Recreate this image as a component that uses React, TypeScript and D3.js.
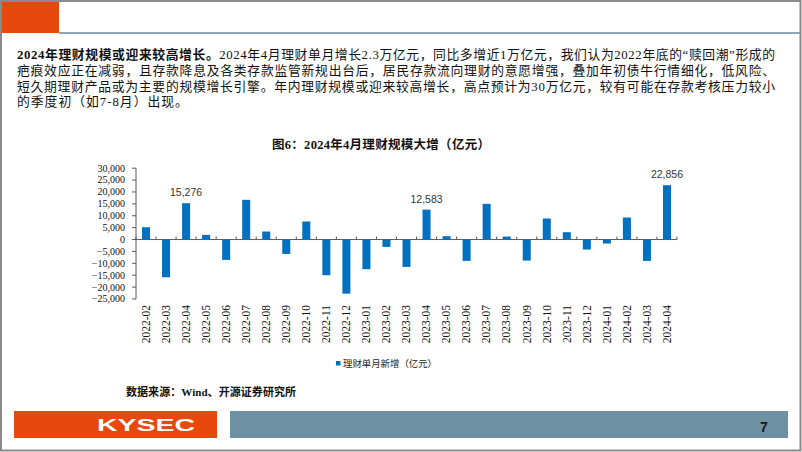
import React from "react";
import * as d3 from "d3";

const categories = [
  "2022-02", "2022-03", "2022-04", "2022-05", "2022-06", "2022-07", "2022-08", "2022-09",
  "2022-10", "2022-11", "2022-12", "2023-01", "2023-02", "2023-03", "2023-04", "2023-05",
  "2023-06", "2023-07", "2023-08", "2023-09", "2023-10", "2023-11", "2023-12", "2024-01",
  "2024-02", "2024-03", "2024-04",
];
const values = [
  5180, -15860, 15276, 1960, -8560, 16700, 3370, -6030,
  7580, -15000, -22730, -12490, -3090, -11500, 12583, 1400,
  -8980, 15010, 1260, -8840, 8840, 3090, -4210, -1680,
  9260, -8980, 22856,
];
const labeledCategories = ["2022-04", "2023-04", "2024-04"];
const yTicks = [30000, 25000, 20000, 15000, 10000, 5000, 0, -5000, -10000, -15000, -20000, -25000];
const seriesName = "理财单月新增（亿元）";
const chartTitle = "图6：2024年4月理财规模大增（亿元）";
const sourceText = "数据来源：Wind、开源证券研究所";
const paraBold = "2024年理财规模或迎来较高增长。";
const paraLines = [
  "2024年4月理财单月增长2.3万亿元，同比多增近1万亿元，我们认为2022年底的“赎回潮”形成的",
  "疤痕效应正在减弱，且存款降息及各类存款监管新规出台后，居民存款流向理财的意愿增强，叠加年初债牛行情细化，低风险、",
  "短久期理财产品或为主要的规模增长引擎。年内理财规模或迎来较高增长，高点预计为30万亿元，较有可能在存款考核压力较小",
  "的季度初（如7-8月）出现。",
];

const BAR = "#0070C0";
const ORANGE = "#E8480C";
const SLATE = "#6E90A3";
const AXIS = "#595959";
const SERIF = "'Liberation Serif', 'Noto Sans CJK SC', serif";
const CJK = "'Liberation Serif', 'Noto Sans CJK SC', sans-serif";

export default function App() {
  const W = 802;
  const H = 452;
  const x = d3.scaleBand<string>().domain(categories).range([136, 677]).paddingInner(0.6).paddingOuter(0.3);
  const y = d3.scaleLinear().domain([-25000, 30000]).range([299, 168.2]);
  const fmt = d3.format(",");
  const step = x.step();
  const y0 = y(0);
  const boundaries = d3.range(categories.length + 1).map((i) => 136 + i * step);

  const baselines = [59, 75, 90.5, 106];

  return (
    <svg
      width={W}
      height={H}
      viewBox={`0 0 ${W} ${H}`}
      style={{ position: "fixed", left: 0, top: 0, background: "#fff" }}
    >
      <rect x={0} y={0} width={W} height={H} fill="#fff" />
      {/* header */}
      <rect x={0} y={0} width={59} height={33} fill={ORANGE} />
      <line x1={59} x2={800} y1={33} y2={33} stroke="#8FA6B6" strokeWidth={2} />
      {/* page border */}
      <rect x={1} y={1} width={799.5} height={449.5} fill="none" stroke="#8a8a8a" strokeWidth={2} />

      {/* paragraph */}
      <text x={17} y={baselines[0]} fontFamily={CJK} fontSize={12.8} fill="#111" textLength={758} lengthAdjust="spacing">
        <tspan fontWeight="bold">{paraBold}</tspan>
        <tspan>{paraLines[0]}</tspan>
      </text>
      {paraLines.slice(1).map((t, i) => (
        <text
          key={i}
          x={17}
          y={baselines[i + 1]}
          fontFamily={CJK}
          fontSize={12.8}
          fill="#111"
          {...(i < 2 ? { textLength: 758, lengthAdjust: "spacing" } : { letterSpacing: 1.0 })}
        >
          {t}
        </text>
      ))}

      {/* chart title */}
      <text x={381} y={148.5} textAnchor="middle" fontFamily={CJK} fontSize={12.5} fontWeight="bold" fill="#111" textLength={218} lengthAdjust="spacing">
        {chartTitle}
      </text>

      {/* y axis */}
      <line x1={136} x2={136} y1={y(30000)} y2={y(-25000)} stroke={AXIS} strokeWidth={1} />
      {yTicks.map((t) => (
        <g key={t}>
          <line x1={132} x2={136} y1={y(t)} y2={y(t)} stroke={AXIS} strokeWidth={1} />
          <text x={125} y={y(t)} dy="0.34em" textAnchor="end" fontFamily={SERIF} fontSize={10} fill="#111">
            {fmt(t)}
          </text>
        </g>
      ))}

      {/* bars */}
      {categories.map((c, i) => {
        const v = values[i];
        const top = y(Math.max(0, v));
        const h = Math.abs(y(v) - y0);
        return <rect key={c} x={x(c)} y={top} width={x.bandwidth()} height={h} fill={BAR} />;
      })}

      {/* category axis at zero */}
      <line x1={136} x2={677} y1={y0} y2={y0} stroke={AXIS} strokeWidth={1} />
      {boundaries.map((bx, i) => (
        <line key={i} x1={bx} x2={bx} y1={y0} y2={y0 - 3} stroke={AXIS} strokeWidth={1} />
      ))}

      {/* data labels */}
      {categories.map((c, i) =>
        labeledCategories.includes(c) ? (
          <text
            key={c}
            x={(x(c) as number) + x.bandwidth() / 2}
            y={y(values[i]) - 7}
            textAnchor="middle"
            fontFamily="'Liberation Sans', Arial, sans-serif"
            fontSize={10.5}
            fill="#333"
          >
            {fmt(values[i])}
          </text>
        ) : null
      )}

      {/* x labels */}
      {categories.map((c) => {
        const cx = (x(c) as number) + x.bandwidth() / 2;
        return (
          <text
            key={c}
            transform={`translate(${cx + 3.8},305) rotate(-90)`}
            textAnchor="end"
            fontFamily={SERIF}
            fontSize={11.5}
            fill="#111"
          >
            {c}
          </text>
        );
      })}

      {/* legend */}
      <rect x={336} y={361} width={4.5} height={4.5} fill={BAR} />
      <text x={343} y={367} fontFamily={CJK} fontSize={9.4} fill="#222" textLength={94} lengthAdjust="spacing">
        {seriesName}
      </text>

      {/* source */}
      <text x={126} y={396} fontFamily={CJK} fontSize={11} fontWeight="bold" fill="#111" textLength={170} lengthAdjust="spacing">
        {sourceText}
      </text>

      {/* footer */}
      <rect x={14} y={411} width={203} height={27} fill={ORANGE} />
      <text x={97} y={431} fontFamily="'Liberation Sans', Arial, sans-serif" fontWeight="bold" fontSize={16.5} fill="#fff" textLength={98} lengthAdjust="spacingAndGlyphs">
        KYSEC
      </text>
      <rect x={230} y={411} width={558} height={27} fill={SLATE} />
      <text x={764} y={431.5} textAnchor="middle" fontFamily="'Liberation Sans', Arial, sans-serif" fontWeight="bold" fontSize={14} fill="#1a1a1a">
        7
      </text>
    </svg>
  );
}
